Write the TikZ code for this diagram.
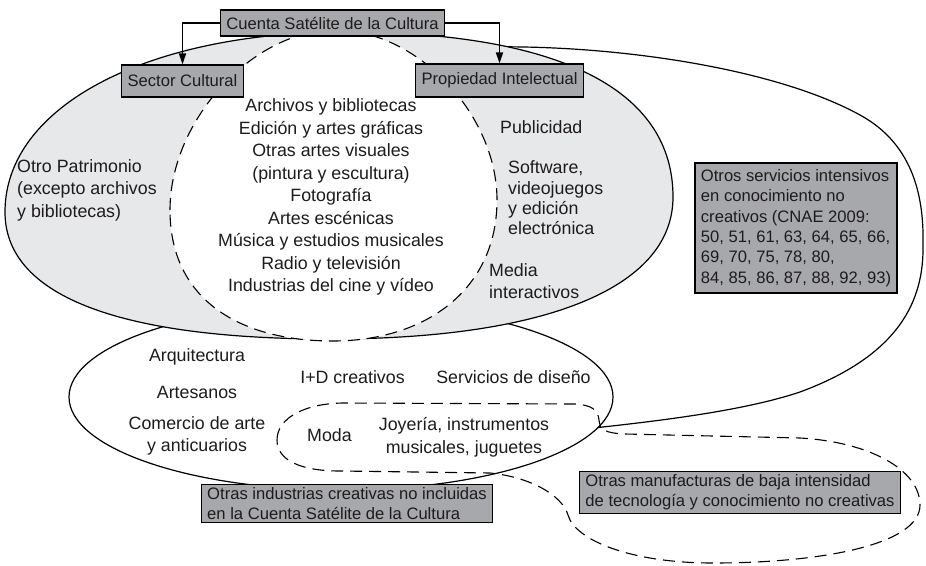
\documentclass[tikz,border=0pt]{standalone}
\usepackage{fontspec}
\setmainfont{Liberation Sans}
\usetikzlibrary{arrows.meta}
\definecolor{boxgray}{RGB}{167,168,171}
\definecolor{setgray}{RGB}{231,232,234}
\definecolor{inkgray}{RGB}{30,27,28}

\tikzset{
  catbox/.style={draw=black, fill=boxgray, line width=1.2pt, text=inkgray,
    font=\fontsize{16.6}{20.3}\selectfont, align=left, inner xsep=6pt, inner ysep=3pt},
  setline/.style={draw=black, line width=1.2pt},
  dashline/.style={draw=black, line width=1.1pt, dash pattern=on 12pt off 7pt},
  body/.style={text=inkgray, font=\fontsize{17.8}{22.5}\selectfont, inner sep=0pt},
  arr/.style={-{Triangle[length=11pt,width=7pt]}, line width=1.7pt}
}

\begin{document}
\begin{tikzpicture}[x=1pt,y=-1pt]
		\useasboundingbox (0,0) rectangle (926,565);

		% Outer set: knowledge intensive services
		\draw[setline] (430,50) .. controls (560,38) and (760,60) .. (860,115)
			.. controls (915,145) and (924,200) .. (923,245)
			.. controls (924,300) and (900,355) .. (800,392)
			.. controls (740,412) and (650,422) .. (575,430);

		% Lower set: other creative industries
		\draw[setline, fill=white] (341,397) ellipse [x radius=272pt, y radius=93pt];

		% Dashed set: low tech manufacturing
		\draw[dashline] (277,440) .. controls (277,418) and (305,403) .. (345,403) -- (575,404)
			.. controls (592,405) and (598,410) .. (599,420)
			.. controls (600,430) and (605,433) .. (625,434) -- (800,438)
			.. controls (870,442) and (920,470) .. (920,505)
			.. controls (920,545) and (820,563) .. (713,563)
			.. controls (630,563) and (575,540) .. (568,515)
			.. controls (562,495) and (530,477) .. (490,473) -- (340,471)
			.. controls (300,471) and (277,460) .. cycle;

		% Cultural sector and intellectual property
		\draw[setline, fill=setgray] (5,212) .. controls (5,105) and (150,32) .. (345,32)
			.. controls (560,32) and (673,90) .. (673,197)
			.. controls (673,290) and (540,339) .. (330,339)
			.. controls (130,339) and (5,300) .. cycle;
		\draw[dashline, fill=white] (170,210) .. controls (170,120) and (253,30) .. (335,30)
			.. controls (418,30) and (497,115) .. (497,200)
			.. controls (497,290) and (425,341) .. (333,341)
			.. controls (240,341) and (170,300) .. cycle;

		% Boxes
		\node[catbox, minimum height=26pt] (cuenta) at (332.5,23) {Cuenta Satélite de la Cultura};
		\node[catbox, minimum height=32pt] (sector) at (182.5,81) {Sector Cultural};
		\node[catbox, minimum height=33pt] (propiedad) at (499.5,80.5) {Propiedad Intelectual};
		\node[catbox, minimum height=130pt] (servicios) at (796,228) {Otros servicios intensivos\\en conocimiento no\\creativos (CNAE 2009:\\50, 51, 61, 63, 64, 65, 66,\\69, 70, 75, 78, 80,\\84, 85, 86, 87, 88, 92, 93)};
		\node[catbox] (industrias) at (347,503.5) {Otras industrias creativas no incluidas\\en la Cuenta Satélite de la Cultura};
		\node[catbox] (manufacturas) at (740,492.5) {Otras manufacturas de baja intensidad\\de tecnología y conocimiento no creativas};

		\draw[arr] (cuenta.west) -| (sector.north);
		\draw[arr] (cuenta.east) -| (propiedad.north);

		% Texts inside the sets
		\node[body, align=center] (nucleo) at (331,197) {Archivos y bibliotecas\\Edición y artes gráficas\\Otras artes visuales\\(pintura y escultura)\\Fotografía\\Artes escénicas\\Música y estudios musicales\\Radio y televisión\\Industrias del cine y vídeo};
		\node[body, align=left, anchor=west] (patrimonio) at (17,190) {Otro Patrimonio\\(excepto archivos\\y bibliotecas)};
		\node[body, anchor=west] (publicidad) at (500,127) {Publicidad};
		\node[body, align=left, anchor=west, font=\fontsize{17.8}{20.3}\selectfont] (software) at (508,198) {Software,\\videojuegos\\y edición\\electrónica};
		\node[body, align=left, anchor=west] (media) at (489,281) {Media\\interactivos};
		\node[body] (arquitectura) at (197,357) {Arquitectura};
		\node[body] (artesanos) at (197,392) {Artesanos};
		\node[body, align=center] (comercio) at (197,436) {Comercio de arte\\y anticuarios};
		\node[body] (imasd) at (352.5,377) {I+D creativos};
		\node[body] (diseno) at (513.5,377) {Servicios de diseño};
		\node[body] (moda) at (329.5,435) {Moda};
		\node[body, align=center] (joyeria) at (464,437.5) {Joyería, instrumentos\\musicales, juguetes};
	\end{tikzpicture}
\end{document}
